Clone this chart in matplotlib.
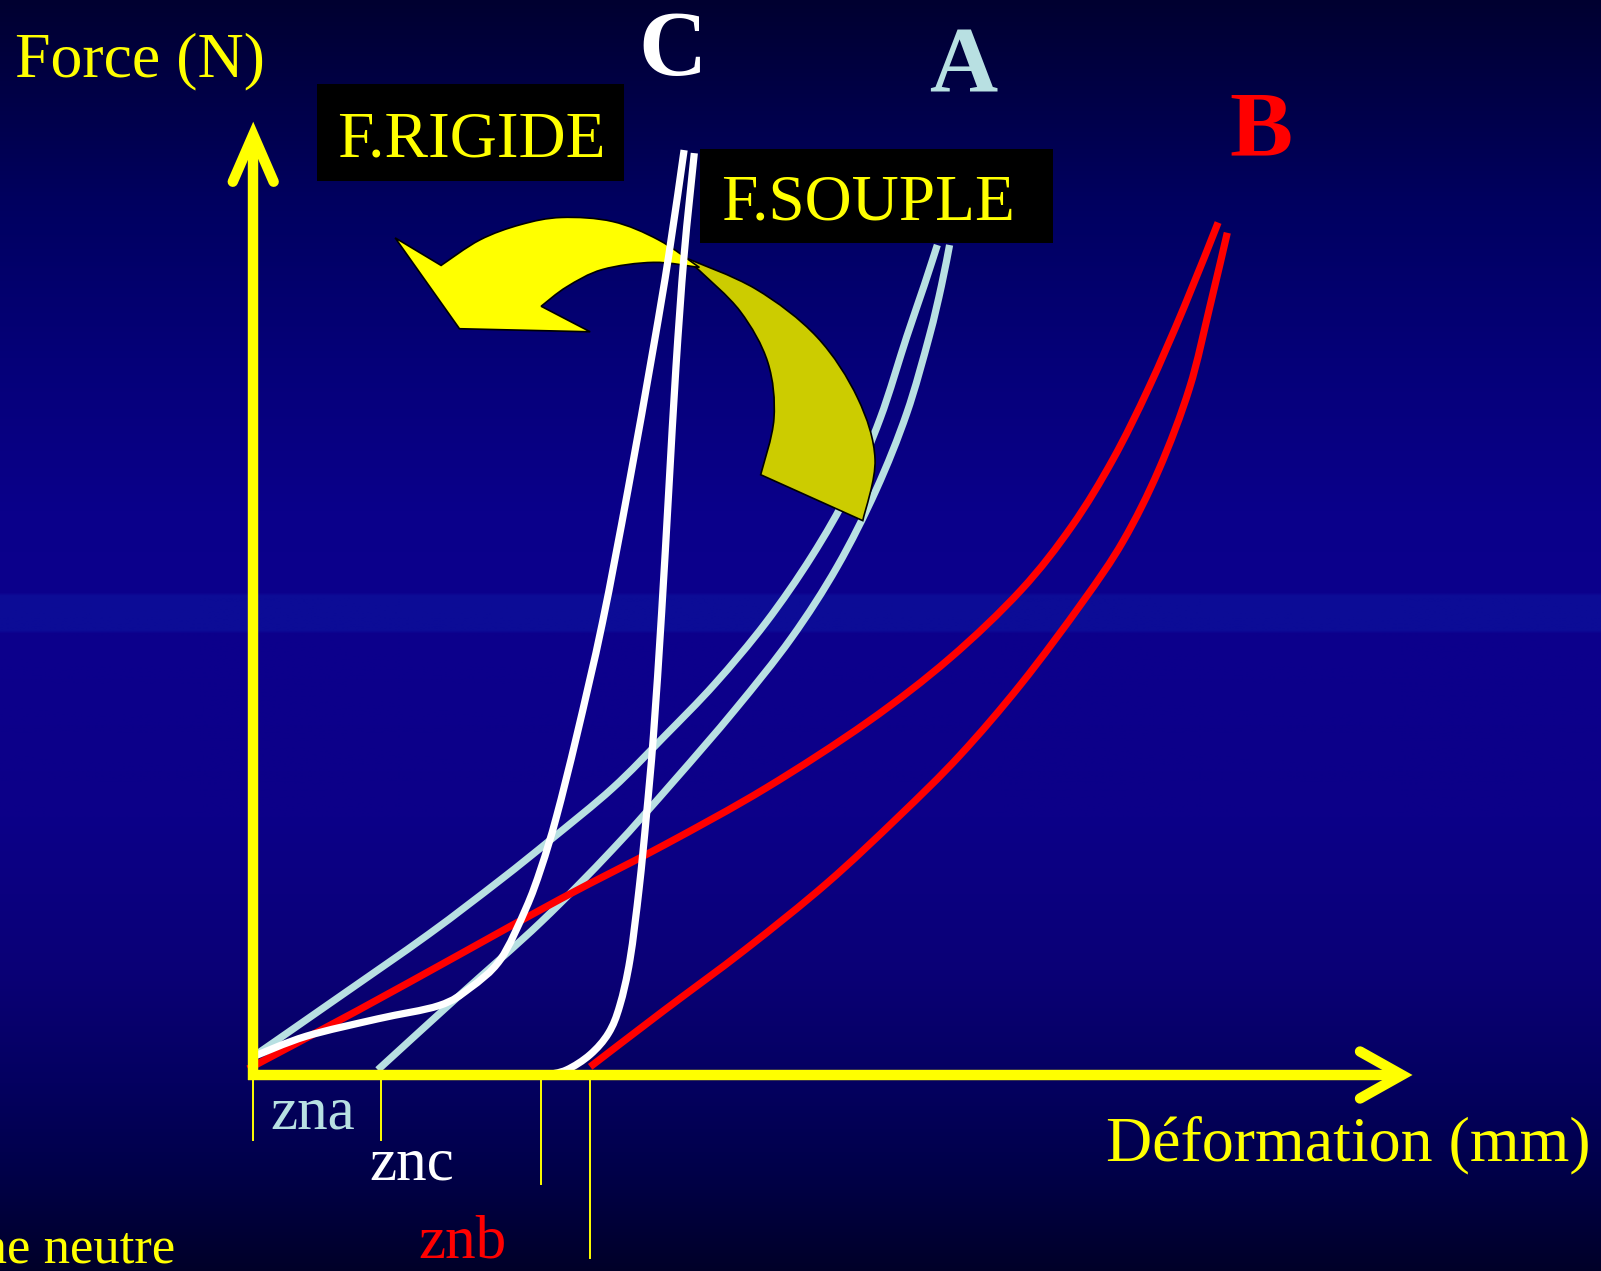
import matplotlib.pyplot as plt
import numpy as np
from matplotlib.patches import PathPatch, Rectangle
from matplotlib.path import Path

# picture coordinates (x right, y down), 1568 x 1245 frame
W, H = 1568, 1245

# curve A (light blue): loading / unloading
a_load_x = [248, 330, 420, 490, 540, 600, 650, 700, 750, 795, 832, 862, 888, 905, 918]
a_load_y = [1035, 978, 915, 862, 822, 772, 722, 670, 610, 545, 480, 410, 330, 280, 240]
a_unload_x = [370, 450, 530, 600, 660, 720, 775, 820, 858, 888, 910, 922, 930]
a_unload_y = [1048, 975, 903, 832, 765, 695, 625, 555, 480, 405, 330, 280, 240]

# curve B (red)
b_load_x = [243, 350, 450, 550, 650, 750, 850, 930, 1000, 1050, 1090, 1125, 1160, 1193]
b_load_y = [1047, 990, 935, 880, 828, 772, 707, 645, 578, 515, 450, 380, 300, 218]
b_unload_x = [578, 650, 730, 810, 880, 940, 1000, 1060, 1100, 1135, 1165, 1185, 1202]
b_unload_y = [1045, 990, 930, 865, 800, 740, 670, 590, 530, 460, 380, 300, 228]

# curve C (white)
c_load_x = [248, 300, 370, 430, 460, 490, 515, 530, 545, 565, 590, 615, 640, 655, 670]
c_load_y = [1035, 1015, 998, 985, 968, 940, 890, 850, 800, 720, 610, 480, 340, 250, 147]
c_unload_x = [535, 555, 578, 596, 607, 617, 626, 633, 640, 648, 655, 662, 670, 680]
c_unload_y = [1053, 1048, 1033, 1012, 985, 940, 870, 800, 720, 600, 480, 360, 250, 150]

# neutral zone marks on the deformation axis
zone_x = [248, 373, 530, 578]
zone_bottom = [1117, 1117, 1160, 1232]
zone_labels = ['zna', 'znc', 'znb']

# curved arrow outline (front part, then the darker back of the ribbon)
front_outer = [(432, 260), (470, 235), (510, 220), (550, 213), (600, 217), (645, 235), (685, 262)]
front_inner = [(685, 262), (640, 257), (590, 264), (555, 281), (530, 300)]
front_head = [(578, 325), (450, 322), (387, 233)]
back_outer = [(670, 252), (740, 283), (800, 330), (840, 390), (857, 450), (845, 510)]
back_inner = [(745, 465), (758, 410), (752, 355), (725, 305), (685, 265)]

sky_y = [0, 200, 350, 500, 580, 583, 617, 620, 800, 950, 1060, 1150, 1245]
sky_rgb = [(0, 0, 48), (0, 0, 96), (5, 0, 120), (10, 0, 138), (12, 0, 140),
           (12, 12, 150), (12, 12, 150), (12, 0, 140), (12, 0, 136), (10, 0, 118),
           (4, 0, 96), (0, 0, 72), (0, 0, 40)]

yellow = '#ffff00'
light_blue = '#b8e0e2'
red = '#ff0000'


def bezier_run(pts):
    # cubic pieces through the given points (Catmull-Rom handles)
    p = np.asarray(pts, dtype=float)
    n = len(p)
    verts, codes = [], []
    for i in range(n - 1):
        p0, p1, p2, p3 = p[max(i - 1, 0)], p[i], p[i + 1], p[min(i + 2, n - 1)]
        verts += [p1 + (p2 - p0) / 6, p2 - (p3 - p1) / 6, p2]
        codes += [Path.CURVE4] * 3
    return verts, codes


def smooth_line(xs, ys, **kw):
    pts = list(zip(xs, ys))
    v, c = bezier_run(pts)
    path = Path([pts[0]] + v, [Path.MOVETO] + c)
    ax.add_patch(PathPatch(path, facecolor='none', capstyle='butt', **kw))


def ribbon(outer, inner, extra, **kw):
    verts, codes = [outer[0]], [Path.MOVETO]
    v, c = bezier_run(outer)
    verts += v; codes += c
    verts.append(inner[0]); codes.append(Path.LINETO)
    v, c = bezier_run(inner)
    verts += v; codes += c
    for q in extra:
        verts.append(q); codes.append(Path.LINETO)
    verts.append(outer[0]); codes.append(Path.CLOSEPOLY)
    ax.add_patch(PathPatch(Path(verts, codes), **kw))


plt.rcParams['font.family'] = ['Liberation Serif', 'DejaVu Serif']

fig = plt.figure(figsize=(16.01, 12.71), dpi=100)
ax = fig.add_axes([0, 0, 1, 1])
ax.set_xlim(0, W)
ax.set_ylim(H, 0)
ax.axis('off')

# background gradient
rows = np.arange(H)
grad = np.stack([np.interp(rows, sky_y, [c[i] for c in sky_rgb]) for i in range(3)], axis=-1) / 255
ax.imshow(grad[:, None, :].repeat(4, axis=1), extent=(0, W, H, 0), aspect='auto', zorder=0)

# axes arrows
ax.plot([248, 248], [1058, 135], color=yellow, lw=7.5, solid_capstyle='butt', zorder=5)
ax.plot([228, 248, 268], [178, 132, 178], color=yellow, lw=7.5, solid_capstyle='round',
        solid_joinstyle='miter', zorder=5)
ax.plot([243, 1368], [1053, 1053], color=yellow, lw=7.5, solid_capstyle='butt', zorder=5)
ax.plot([1332, 1373, 1332], [1030, 1053, 1076], color=yellow, lw=7.5, solid_capstyle='round',
        solid_joinstyle='miter', zorder=5)
for x, yb in zip(zone_x, zone_bottom):
    ax.plot([x, x], [1058, yb], color=yellow, lw=1.4, zorder=5)

# curves
lw_curve = 5.2
smooth_line(a_load_x, a_load_y, edgecolor=light_blue, lw=lw_curve, zorder=2)
smooth_line(a_unload_x, a_unload_y, edgecolor=light_blue, lw=lw_curve, zorder=2)
smooth_line(b_load_x, b_load_y, edgecolor=red, lw=lw_curve, zorder=2)
smooth_line(b_unload_x, b_unload_y, edgecolor=red, lw=lw_curve, zorder=2)
smooth_line(c_load_x, c_load_y, edgecolor='white', lw=lw_curve, zorder=4)
smooth_line(c_unload_x, c_unload_y, edgecolor='white', lw=lw_curve, zorder=4)

# curved arrow
ribbon(back_outer, back_inner, [], facecolor='#cccc00', edgecolor='black', lw=1.2, zorder=3)
ribbon(front_outer, front_inner, front_head, facecolor=yellow, edgecolor='black', lw=1.2, zorder=3.1)

# labelled boxes
ax.add_patch(Rectangle((310, 82), 301, 95, facecolor='black', zorder=6))
ax.add_patch(Rectangle((686, 146), 345, 92, facecolor='black', zorder=6))
ax.text(330, 153, 'F.RIGIDE', color=yellow, fontsize=47, va='baseline', ha='left', zorder=7)
ax.text(706, 215, 'F.SOUPLE', color=yellow, fontsize=47, va='baseline', ha='left', zorder=7)

# axis titles
ax.text(15, 75, 'Force (N)', color=yellow, fontsize=46, va='baseline', ha='left', zorder=7)
ax.text(1083, 1137, 'Déformation (mm)', color=yellow, fontsize=46, va='baseline', ha='left', zorder=7)
ax.text(172, 1237, 'Zone neutre', color=yellow, fontsize=38, va='baseline', ha='right', zorder=7)

# curve letters
ax.text(659, 73, 'C', color='white', fontsize=68, fontweight='bold', va='baseline', ha='center', zorder=7)
ax.text(943, 90, 'A', color=light_blue, fontsize=68, fontweight='bold', va='baseline', ha='center', zorder=7)
ax.text(1235, 152, 'B', color=red, fontsize=68, fontweight='bold', va='baseline', ha='center', zorder=7)

# zone labels
ax.text(265, 1105, zone_labels[0], color=light_blue, fontsize=44, va='baseline', ha='left', zorder=7)
ax.text(362, 1155, zone_labels[1], color='white', fontsize=44, va='baseline', ha='left', zorder=7)
ax.text(410, 1232, zone_labels[2], color=red, fontsize=44, va='baseline', ha='left', zorder=7)

fig.savefig('out.png', dpi=100)
